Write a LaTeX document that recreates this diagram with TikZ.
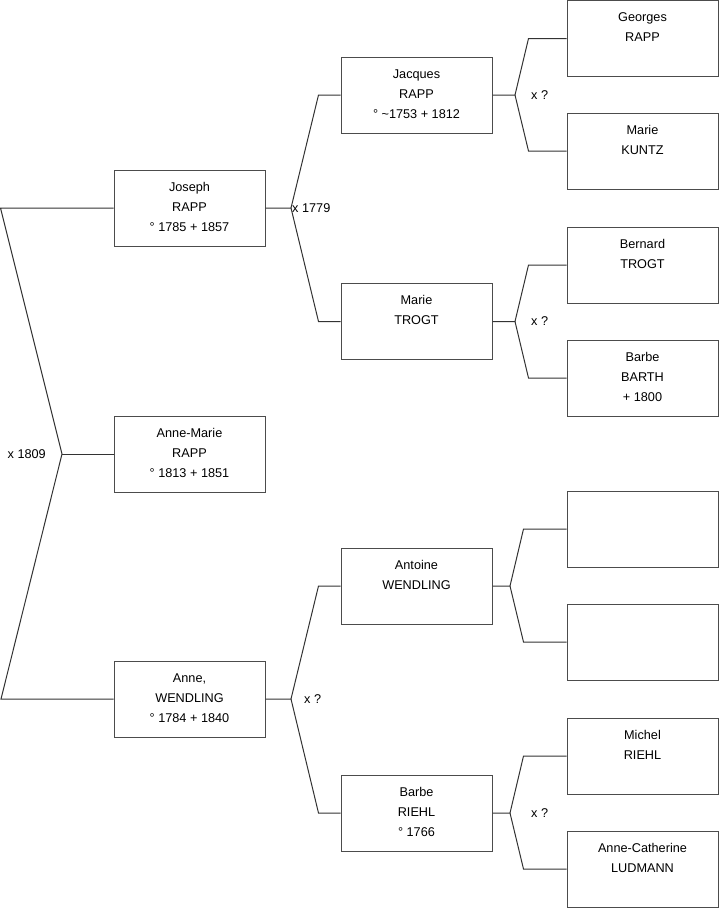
\documentclass[tikz,border=0pt]{standalone}
\usepackage{fontspec}
\setmainfont{Liberation Sans}
\usetikzlibrary{positioning}

\newcommand{\boxtext}[1]{\parbox[t][62pt][t]{151pt}{\centering\strut #1}}

\begin{document}
\begin{tikzpicture}[
  x=1pt, y=-1pt,
  font=\fontsize{12.7}{20}\selectfont,
  person/.style={draw=black!70, line width=1pt, rectangle, minimum width=151pt, minimum height=76pt, inner xsep=0pt, inner ysep=7pt, fill=white},
  link/.style={draw=black!80, line width=1pt},
  marriage/.style={font=\fontsize{12.7}{15}\selectfont, inner sep=1pt}
]
\useasboundingbox (0,0) rectangle (719,908);

% Generation 1
\node[person] (joseph) at (189.5,208) {\boxtext{Joseph\\RAPP\\° 1785 + 1857}};
\node[person] (annemarie) at (189.5,454) {\boxtext{Anne-Marie\\RAPP\\° 1813 + 1851}};
\node[person] (anne) at (189.5,699) {\boxtext{Anne,\\WENDLING\\° 1784 + 1840}};

% Generation 2
\node[person] (jacques) at (416.5,95) {\boxtext{Jacques\\RAPP\\° \textasciitilde1753 + 1812}};
\node[person] (marie) at (416.5,321.5) {\boxtext{Marie\\TROGT}};
\node[person] (antoine) at (416.5,586) {\boxtext{Antoine\\WENDLING}};
\node[person] (barbe) at (416.5,813) {\boxtext{Barbe\\RIEHL\\° 1766}};

% Generation 3
\node[person] (georges) at (642.5,38.5) {\boxtext{Georges\\RAPP}};
\node[person] (kuntz) at (642.5,151) {\boxtext{Marie\\KUNTZ}};
\node[person] (bernard) at (642.5,265) {\boxtext{Bernard\\TROGT}};
\node[person] (barth) at (642.5,378) {\boxtext{Barbe\\BARTH\\+ 1800}};
\node[person] (empty1) at (642.5,529) {\boxtext{}};
\node[person] (empty2) at (642.5,642) {\boxtext{}};
\node[person] (michel) at (642.5,756) {\boxtext{Michel\\RIEHL}};
\node[person] (ludmann) at (642.5,869) {\boxtext{Anne-Catherine\\LUDMANN}};

% Branch points
\coordinate (root) at (62,454);
\coordinate (jfork) at (291,208);
\coordinate (afork) at (291,699);
\coordinate (jacfork) at (515,95);
\coordinate (marfork) at (515,321.5);
\coordinate (antfork) at (510,586);
\coordinate (barfork) at (510,813);

% Root
\draw[link] (joseph.west) -- ++(-113,0) -- (root) -- (anne.west -| 1,0) -- (anne.west);
\draw[link] (root) -- (annemarie.west);
\node[marriage, left=15pt of root] (m1809) {x 1809};

% Joseph / Anne
\draw[link] (joseph.east) -- (jfork) -- ([xshift=-22]jacques.west) -- (jacques.west);
\draw[link] (jfork) -- ([xshift=-22]marie.west) -- (marie.west);
\node[marriage, right=0pt of jfork] (m1779) {x 1779};
\draw[link] (anne.east) -- (afork) -- ([xshift=-22]antoine.west) -- (antoine.west);
\draw[link] (afork) -- ([xshift=-22]barbe.west) -- (barbe.west);
\node[marriage, right=12pt of afork] (manne) {x ?};

% Generation 2 to 3
\draw[link] (jacques.east) -- (jacfork) -- ([xshift=-38]georges.west) -- (georges.west);
\draw[link] (jacfork) -- ([xshift=-38]kuntz.west) -- (kuntz.west);
\node[marriage, right=15pt of jacfork] (mjac) {x ?};
\draw[link] (marie.east) -- (marfork) -- ([xshift=-38]bernard.west) -- (bernard.west);
\draw[link] (marfork) -- ([xshift=-38]barth.west) -- (barth.west);
\node[marriage, right=15pt of marfork] (mmar) {x ?};
\draw[link] (antoine.east) -- (antfork) -- ([xshift=-43]empty1.west) -- (empty1.west);
\draw[link] (antfork) -- ([xshift=-43]empty2.west) -- (empty2.west);
\draw[link] (barbe.east) -- (barfork) -- ([xshift=-43]michel.west) -- (michel.west);
\draw[link] (barfork) -- ([xshift=-43]ludmann.west) -- (ludmann.west);
\node[marriage, right=20pt of barfork] (mbar) {x ?};

\end{tikzpicture}
\end{document}
